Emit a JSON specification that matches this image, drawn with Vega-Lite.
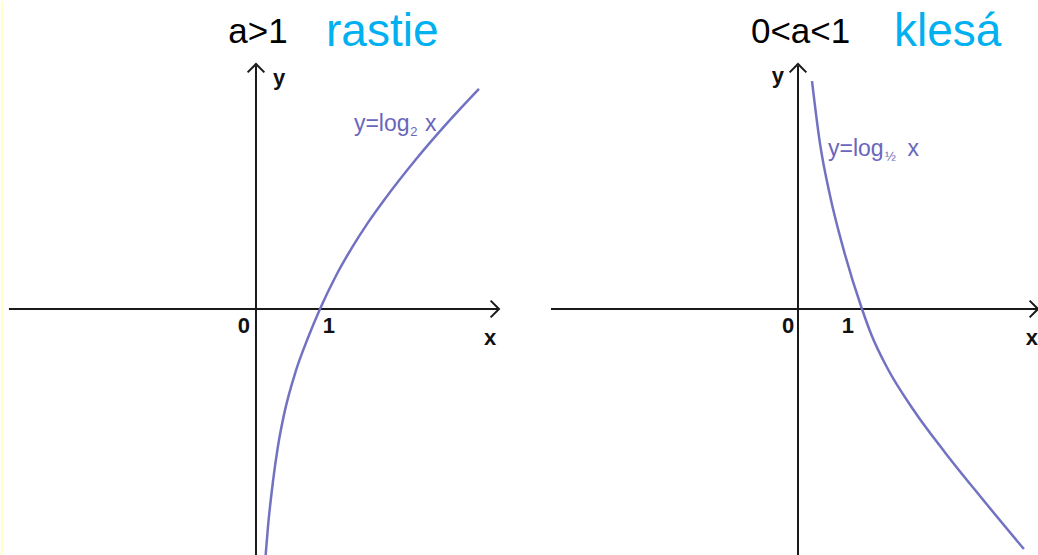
{
  "$schema": "https://vega.github.io/schema/vega-lite/v6.json",
  "background": "white",
  "padding": 0,
  "spacing": 0,
  "bounds": "flush",
  "config": {
    "view": {"stroke": null},
    "text": {"font": "Liberation Sans"}
  },
  "resolve": {"scale": {"x": "independent", "y": "independent"}},
  "hconcat": [
    {
      "width": 519,
      "height": 555,
      "encoding": {
        "x": {"type": "quantitative", "scale": {"domain": [-3.984, 4.125], "nice": false, "zero": false}, "axis": null},
        "y": {"type": "quantitative", "scale": {"domain": [-3.859, 4.8125], "nice": false, "zero": false}, "axis": null}
      },
      "layer": [
        {
          "data": {"values": [{"x": -3.97, "y": -3.859, "y2": 4.8125}]},
          "mark": {"type": "rule", "color": "#ffffc8", "strokeWidth": 2},
          "encoding": {"x": {"field": "x"}, "y": {"field": "y"}, "y2": {"field": "y2"}}
        },
        {
          "data": {"values": [
            {"x": -3.86, "x2": 3.78, "y": 0, "y2": 0},
            {"x": 0, "x2": 0, "y": -3.859, "y2": 3.8}
          ]},
          "mark": {"type": "rule", "color": "#1a1a1a", "strokeWidth": 2},
          "encoding": {"x": {"field": "x"}, "x2": {"field": "x2"}, "y": {"field": "y"}, "y2": {"field": "y2"}}
        },
        {
          "data": {"values": [
            {"x": 3.797, "y": 0, "dir": 0},
            {"x": 0, "y": 3.828, "dir": -90}
          ]},
          "mark": {"type": "point", "shape": "M-1,-1L0,0L-1,1", "filled": false, "color": "#1a1a1a", "strokeWidth": 2, "size": 280, "opacity": 1},
          "encoding": {"x": {"field": "x"}, "y": {"field": "y"}, "angle": {"field": "dir", "type": "quantitative", "scale": null}}
        },
        {
          "data": {"values": [
            {"x": 0.15, "y": -3.86},
            {"x": 0.156, "y": -3.78},
            {"x": 0.1875, "y": -3.4},
            {"x": 0.266, "y": -2.69},
            {"x": 0.344, "y": -2.14},
            {"x": 0.4375, "y": -1.65},
            {"x": 0.625, "y": -0.96},
            {"x": 0.8125, "y": -0.45},
            {"x": 1.0, "y": 0},
            {"x": 1.25, "y": 0.52},
            {"x": 1.5, "y": 0.96},
            {"x": 1.75, "y": 1.35},
            {"x": 2.0, "y": 1.7},
            {"x": 2.5, "y": 2.34},
            {"x": 3.0, "y": 2.92},
            {"x": 3.484, "y": 3.44}
          ]},
          "mark": {"type": "line", "color": "#7272c2", "strokeWidth": 2.5, "interpolate": "monotone"},
          "encoding": {"x": {"field": "x"}, "y": {"field": "y"}}
        },
        {
          "data": {"values": [
            {"t": "0", "x": -0.1875, "y": -0.266},
            {"t": "1", "x": 1.14, "y": -0.266},
            {"t": "x", "x": 3.66, "y": -0.45},
            {"t": "y", "x": 0.36, "y": 3.61}
          ]},
          "mark": {"type": "text", "fontSize": 22, "fontWeight": "bold", "color": "#111111", "align": "center", "baseline": "middle"},
          "encoding": {"x": {"field": "x"}, "y": {"field": "y"}, "text": {"field": "t"}}
        },
        {
          "data": {"values": [{"t": "a>1", "x": 0.03, "y": 4.156}]},
          "mark": {"type": "text", "fontSize": 35, "color": "#000000", "align": "center", "baseline": "alphabetic"},
          "encoding": {"x": {"field": "x"}, "y": {"field": "y"}, "text": {"field": "t"}}
        },
        {
          "data": {"values": [{"t": "rastie", "x": 1.094, "y": 4.11}]},
          "mark": {"type": "text", "fontSize": 46, "color": "#00b0f0", "align": "left", "baseline": "alphabetic"},
          "encoding": {"x": {"field": "x"}, "y": {"field": "y"}, "text": {"field": "t"}}
        },
        {
          "data": {"values": [
            {"t": "y=log", "x": 1.53, "y": 2.78},
            {"t": "x", "x": 2.64, "y": 2.78}
          ]},
          "mark": {"type": "text", "fontSize": 23, "color": "#6a66bb", "align": "left", "baseline": "alphabetic"},
          "encoding": {"x": {"field": "x"}, "y": {"field": "y"}, "text": {"field": "t"}}
        },
        {
          "data": {"values": [{"t": "2", "x": 2.41, "y": 2.7}]},
          "mark": {"type": "text", "fontSize": 13, "color": "#6a66bb", "align": "left", "baseline": "alphabetic"},
          "encoding": {"x": {"field": "x"}, "y": {"field": "y"}, "text": {"field": "t"}}
        }
      ]
    },
    {
      "width": 519,
      "height": 555,
      "encoding": {
        "x": {"type": "quantitative", "scale": {"domain": [-4.344, 3.766], "nice": false, "zero": false}, "axis": null},
        "y": {"type": "quantitative", "scale": {"domain": [-3.859, 4.8125], "nice": false, "zero": false}, "axis": null}
      },
      "layer": [
        {
          "data": {"values": [
            {"x": -3.86, "x2": 3.74, "y": 0, "y2": 0},
            {"x": 0, "x2": 0, "y": -3.859, "y2": 3.8}
          ]},
          "mark": {"type": "rule", "color": "#1a1a1a", "strokeWidth": 2},
          "encoding": {"x": {"field": "x"}, "x2": {"field": "x2"}, "y": {"field": "y"}, "y2": {"field": "y2"}}
        },
        {
          "data": {"values": [
            {"x": 3.75, "y": 0, "dir": 0},
            {"x": 0, "y": 3.828, "dir": -90}
          ]},
          "mark": {"type": "point", "shape": "M-1,-1L0,0L-1,1", "filled": false, "color": "#1a1a1a", "strokeWidth": 2, "size": 280, "opacity": 1},
          "encoding": {"x": {"field": "x"}, "y": {"field": "y"}, "angle": {"field": "dir", "type": "quantitative", "scale": null}}
        },
        {
          "data": {"values": [
            {"x": 0.219, "y": 3.56},
            {"x": 0.344, "y": 2.585},
            {"x": 0.5, "y": 1.774},
            {"x": 0.7, "y": 0.974},
            {"x": 1.0, "y": 0.0},
            {"x": 1.15, "y": -0.41},
            {"x": 1.4, "y": -0.93},
            {"x": 1.8, "y": -1.57},
            {"x": 2.3, "y": -2.245},
            {"x": 2.85, "y": -2.93},
            {"x": 3.53, "y": -3.75}
          ]},
          "mark": {"type": "line", "color": "#7272c2", "strokeWidth": 2.5, "interpolate": "monotone"},
          "encoding": {"x": {"field": "x"}, "y": {"field": "y"}}
        },
        {
          "data": {"values": [
            {"t": "0", "x": -0.156, "y": -0.266},
            {"t": "1", "x": 0.78, "y": -0.266},
            {"t": "x", "x": 3.655, "y": -0.45},
            {"t": "y", "x": -0.3125, "y": 3.64}
          ]},
          "mark": {"type": "text", "fontSize": 22, "fontWeight": "bold", "color": "#111111", "align": "center", "baseline": "middle"},
          "encoding": {"x": {"field": "x"}, "y": {"field": "y"}, "text": {"field": "t"}}
        },
        {
          "data": {"values": [{"t": "0<a<1", "x": 0.04, "y": 4.156}]},
          "mark": {"type": "text", "fontSize": 35, "color": "#000000", "align": "center", "baseline": "alphabetic"},
          "encoding": {"x": {"field": "x"}, "y": {"field": "y"}, "text": {"field": "t"}}
        },
        {
          "data": {"values": [{"t": "klesá", "x": 1.5, "y": 4.11}]},
          "mark": {"type": "text", "fontSize": 46, "color": "#00b0f0", "align": "left", "baseline": "alphabetic"},
          "encoding": {"x": {"field": "x"}, "y": {"field": "y"}, "text": {"field": "t"}}
        },
        {
          "data": {"values": [
            {"t": "y=log", "x": 0.469, "y": 2.39},
            {"t": "x", "x": 1.71, "y": 2.39}
          ]},
          "mark": {"type": "text", "fontSize": 23, "color": "#6a66bb", "align": "left", "baseline": "alphabetic"},
          "encoding": {"x": {"field": "x"}, "y": {"field": "y"}, "text": {"field": "t"}}
        },
        {
          "data": {"values": [{"t": "½", "x": 1.36, "y": 2.31}]},
          "mark": {"type": "text", "fontSize": 13, "color": "#6a66bb", "align": "left", "baseline": "alphabetic"},
          "encoding": {"x": {"field": "x"}, "y": {"field": "y"}, "text": {"field": "t"}}
        }
      ]
    }
  ]
}
